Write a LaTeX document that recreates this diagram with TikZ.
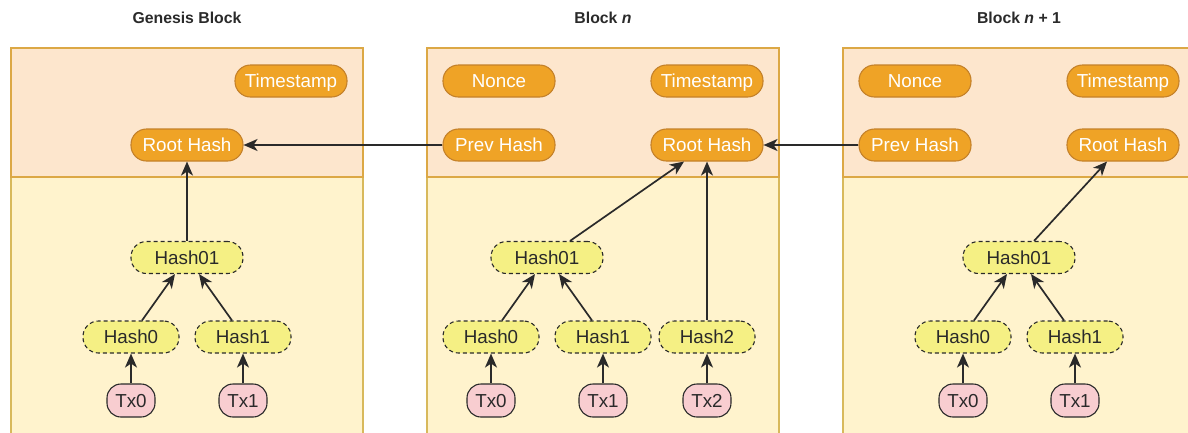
\documentclass[tikz,border=0pt]{standalone}
\usepackage{fontspec}
\setmainfont{Liberation Sans}
\usetikzlibrary{arrows.meta,calc}
\definecolor{pillfill}{HTML}{EFA326}
\definecolor{pilldraw}{HTML}{C4812A}
\definecolor{topfill}{HTML}{FDE6CD}
\definecolor{topdraw}{HTML}{DCA845}
\definecolor{botfill}{HTML}{FFF3CD}
\definecolor{botdraw}{HTML}{D8B95C}
\definecolor{hashfill}{HTML}{F5F084}
\definecolor{txfill}{HTML}{F8CDD0}
\definecolor{dk}{HTML}{2A2A2A}
\tikzset{
  txt/.style={text height=13.3pt, text depth=0pt, font=\fontsize{18.8pt}{20pt}\selectfont},
  pill/.style={txt, draw=pilldraw, line width=1.1pt, fill=pillfill, rounded corners=15.5pt,
    minimum width=112pt, minimum height=32pt, inner sep=0pt, text=white},
  hashbox/.style={txt, draw=dk, line width=1.1pt, dash pattern=on 4pt off 3pt, fill=hashfill,
    rounded corners=15.5pt, minimum height=32pt, inner sep=0pt, text=dk},
  txbox/.style={txt, draw=dk, line width=1.1pt, fill=txfill, rounded corners=14pt,
    minimum width=48pt, minimum height=33pt, inner sep=0pt, text=dk},
  topregion/.style={draw=topdraw, line width=1.3pt, fill=topfill},
  botregion/.style={draw=botdraw, line width=1.3pt, fill=botfill},
  title/.style={font=\fontsize{15.8pt}{18pt}\selectfont\bfseries, text=dk},
  link/.style={draw=dk, line width=1.7pt, -{Stealth[length=14pt,width=12pt,inset=4pt]}}
}
\begin{document}
\begin{tikzpicture}[x=1pt,y=-1pt]
\useasboundingbox (0,0) rectangle (1188,432);
% regions
\foreach \L in {11,427,843}{
  \draw[botregion] (\L,177) rectangle ++(352,270);
  \draw[topregion] (\L,48) rectangle ++(352,129);
}
% titles
\node[title] (t1) at (187,18) {Genesis Block};
\node[title] (t2) at (603,18) {Block \textit{n}};
\node[title] (t3) at (1019,18) {Block \textit{n} + 1};
% Genesis
\node[pill] (gts) at (291,81) {Timestamp};
\node[pill] (grh) at (187,145) {Root Hash};
\node[hashbox, minimum width=112pt] (gh01) at (187,257.5) {Hash01};
\node[hashbox, minimum width=96pt] (gh0) at (131,337) {Hash0};
\node[hashbox, minimum width=96pt] (gh1) at (243,337) {Hash1};
\node[txbox] (gt0) at (131,400.5) {Tx0};
\node[txbox] (gt1) at (243,400.5) {Tx1};
% Block n
\node[pill] (nno) at (499,81) {Nonce};
\node[pill] (nts) at (707,81) {Timestamp};
\node[pill] (nph) at (499,145) {Prev Hash};
\node[pill] (nrh) at (707,145) {Root Hash};
\node[hashbox, minimum width=112pt] (nh01) at (547,257.5) {Hash01};
\node[hashbox, minimum width=96pt] (nh0) at (491,337) {Hash0};
\node[hashbox, minimum width=96pt] (nh1) at (603,337) {Hash1};
\node[hashbox, minimum width=96pt] (nh2) at (707,337) {Hash2};
\node[txbox] (nt0) at (491,400.5) {Tx0};
\node[txbox] (nt1) at (603,400.5) {Tx1};
\node[txbox] (nt2) at (707,400.5) {Tx2};
% Block n+1
\node[pill] (mno) at (915,81) {Nonce};
\node[pill] (mts) at (1123,81) {Timestamp};
\node[pill] (mph) at (915,145) {Prev Hash};
\node[pill] (mrh) at (1123,145) {Root Hash};
\node[hashbox, minimum width=112pt] (mh01) at (1019,257.5) {Hash01};
\node[hashbox, minimum width=96pt] (mh0) at (963,337) {Hash0};
\node[hashbox, minimum width=96pt] (mh1) at (1075,337) {Hash1};
\node[txbox] (mt0) at (963,400.5) {Tx0};
\node[txbox] (mt1) at (1075,400.5) {Tx1};
% links genesis
\draw[link] (gh01.north) -- (grh.south);
\draw[link] ($(gh0.north)+(11,0)$) -- ($(gh01.south)+(-12,0)$);
\draw[link] ($(gh1.north)+(-11,0)$) -- ($(gh01.south)+(12,0)$);
\draw[link] (gt0.north) -- (gh0.south);
\draw[link] (gt1.north) -- (gh1.south);
% links block n
\draw[link] ($(nh01.north)+(23,0)$) -- ($(nrh.south)+(-23,0)$);
\draw[link] (nh2.north) -- (nrh.south);
\draw[link] ($(nh0.north)+(11,0)$) -- ($(nh01.south)+(-12,0)$);
\draw[link] ($(nh1.north)+(-11,0)$) -- ($(nh01.south)+(12,0)$);
\draw[link] (nt0.north) -- (nh0.south);
\draw[link] (nt1.north) -- (nh1.south);
\draw[link] (nt2.north) -- (nh2.south);
% links block n+1
\draw[link] ($(mh01.north)+(15,0)$) -- ($(mrh.south)+(-16,0)$);
\draw[link] ($(mh0.north)+(11,0)$) -- ($(mh01.south)+(-12,0)$);
\draw[link] ($(mh1.north)+(-11,0)$) -- ($(mh01.south)+(12,0)$);
\draw[link] (mt0.north) -- (mh0.south);
\draw[link] (mt1.north) -- (mh1.south);
% chain
\draw[link] (nph.west) -- (grh.east);
\draw[link] (mph.west) -- (nrh.east);
\end{tikzpicture}
\end{document}
